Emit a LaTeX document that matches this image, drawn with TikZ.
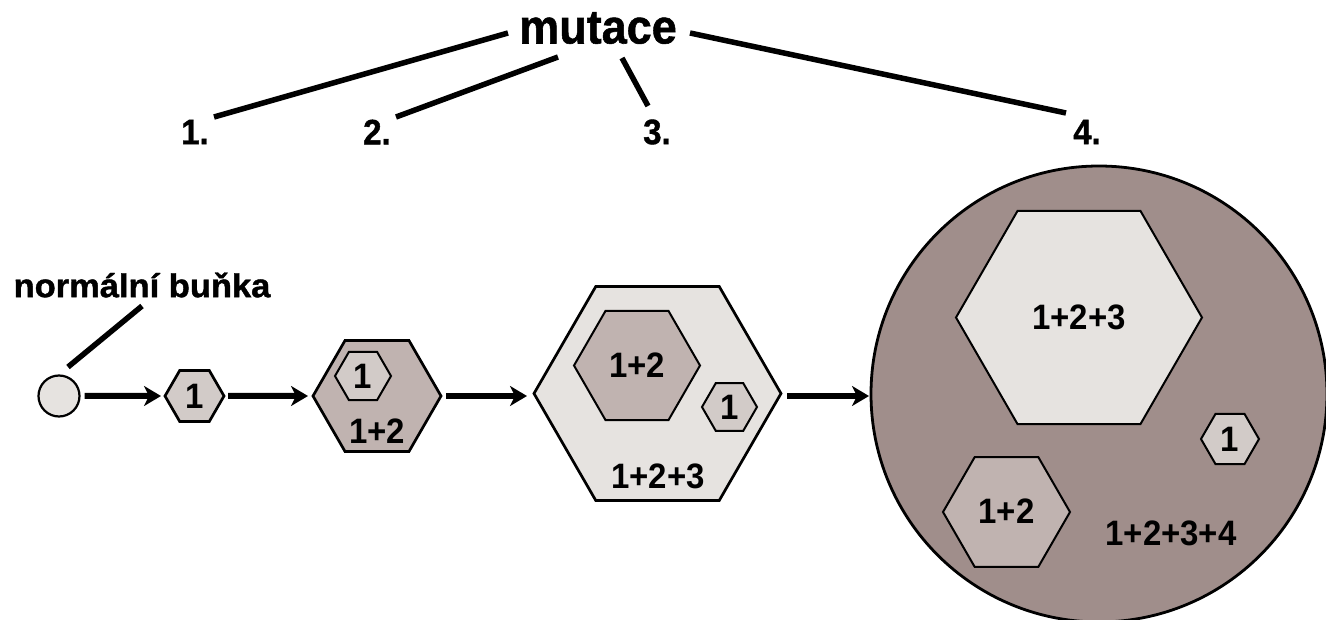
\documentclass[tikz,border=0pt]{standalone}
\usepackage{fontspec}
\setmainfont{Liberation Sans}
\newfontfamily\heavy{Liberation Sans}[BoldFeatures={FakeBold=1.2}]
\usetikzlibrary{shapes.geometric,arrows.meta}
\definecolor{tissue}{HTML}{A08E8B}
\definecolor{cloneB}{HTML}{C0B3B0}
\definecolor{cloneA}{HTML}{D2CBC8}
\definecolor{cloneC}{HTML}{E6E3E0}
% digits and headings are set slightly taller than the plain font
\newcommand\tallset[1]{\scalebox{1}[1.07]{#1}}
\tikzset{
  hexcell/.style={regular polygon,regular polygon sides=6,draw=black,line width=2pt,inner sep=0pt,outer sep=0pt,font=\bfseries\fontsize{33}{33}\selectfont},
  hexthick/.style={hexcell,line width=2.7pt},
  count/.style={inner sep=0pt,font=\bfseries\fontsize{33}{33}\selectfont},
  head/.style={inner sep=0pt,font=\heavy\bfseries\fontsize{33}{33}\selectfont},
  link/.style={line width=5.5pt},
  step arrow/.style={line width=6pt,-{Stealth[length=17pt,width=20pt,inset=5pt]}},
}
\begin{document}
\begin{tikzpicture}[x=1pt,y=-1pt]
\useasboundingbox (0,0) rectangle (1326,620);
\clip (0,0) rectangle (1326,620);
% headings
\node[head,font=\heavy\bfseries\fontsize{45}{45}\selectfont] (mutace) at (598,28) {\tallset{mutace}};
\node[head] (one) at (195,132) {\tallset{1.}};
\node[head] (two) at (377,132) {\tallset{2.}};
\node[head] (three) at (657,132) {\tallset{3.}};
\node[head] (four) at (1087,132) {\tallset{4.}};
\node[head] (normal) at (142,285) {\scalebox{1.045}[1]{normální buňka}};
% stages of the tumour
\node[circle,draw=black,line width=2.2pt,fill=cloneC,minimum size=41pt,inner sep=0pt,outer sep=0pt] (cell) at (59,396) {};
\node[hexthick,fill=cloneA,minimum size=59pt] (stageA) at (194.5,396) {\tallset{1}};
\node[hexthick,fill=cloneB,minimum size=128pt] (stageB) at (377,396) {};
\node[hexcell,fill=cloneA,minimum size=56pt] (stageBa) at (363,376) {\tallset{1}};
\node[count] (stageBlabel) at (377,431) {\tallset{1+2}};
\node[hexthick,fill=cloneC,minimum size=247pt] (stageC) at (657.5,393.5) {};
\node[hexcell,fill=cloneB,minimum size=126pt] (stageCb) at (637,365.5) {\tallset{1+2}};
\node[hexcell,fill=cloneA,minimum size=55pt] (stageCa) at (729.5,407) {\tallset{1}};
\node[count] (stageClabel) at (658,476) {\tallset{1+2+3}};
\node[circle,draw=black,line width=2.8pt,fill=tissue,minimum size=456pt,inner sep=0pt,outer sep=0pt] (stageD) at (1099,394) {};
\node[hexcell,fill=cloneC,minimum size=246pt] (stageDc) at (1079,317.5) {\tallset{1+2+3}};
\node[hexcell,fill=cloneA,minimum size=58pt] (stageDa) at (1230,439) {\tallset{1}};
\node[hexcell,fill=cloneB,minimum size=127pt] (stageDb) at (1006.5,512) {};
\node[count] at (1006.5,511) {\tallset{1+2}};
\node[count] (stageDlabel) at (1171,533) {\tallset{1+2+3+4}};
% leader lines
\draw[link] ([shift={(-90,5)}]mutace.center) -- ([shift={(19,-15)}]one.center);
\draw[link] ([shift={(-40,29)}]mutace.center) -- ([shift={(19,-15)}]two.center);
\draw[link] ([shift={(24,30)}]mutace.center) -- ([shift={(-9,-26)}]three.center);
\draw[link] ([shift={(92,5)}]mutace.center) -- ([shift={(-21,-19)}]four.center);
\draw[link] ([shift={(0,21)}]normal.center) -- ([shift={(9,-29)}]cell.center);
% progression arrows
\draw[step arrow,shorten <=5pt,shorten >=4pt] (cell.east) -- (stageA.west);
\draw[step arrow,shorten <=4pt,shorten >=5pt] (stageA.east) -- (stageB.west);
\draw[step arrow,shorten <=5pt,shorten >=7pt] (stageB.east) -- (stageC.west |- stageB.east);
\draw[step arrow,shorten <=6pt,shorten >=2pt] (stageC.east |- stageB.east) -- (stageD.west |- stageB.east);
\end{tikzpicture}
\end{document}
